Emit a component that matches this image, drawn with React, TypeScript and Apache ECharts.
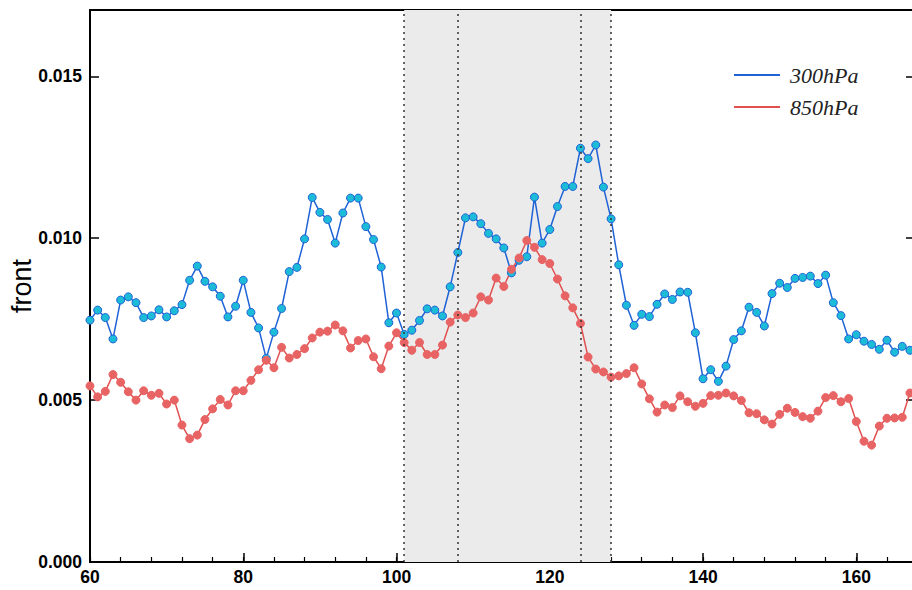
import React, { useEffect, useRef } from "react";
import * as echarts from "echarts";

// x positions start at 60 and advance by 1 per point
const X_START = 60;

const series300: number[] = [
  0.00747, 0.00778, 0.00755, 0.00689, 0.00809, 0.00819, 0.00801, 0.00755, 0.0076, 0.00779,
  0.00757, 0.00776, 0.00795, 0.0087, 0.00914, 0.00867, 0.0085, 0.00821, 0.00757, 0.0079,
  0.0087, 0.00771, 0.00723, 0.00629, 0.0071, 0.00783, 0.00897, 0.0091, 0.00998, 0.01126,
  0.0108, 0.01058, 0.00985, 0.01078, 0.01124, 0.01124, 0.01036, 0.00996, 0.00911, 0.00739,
  0.00769, 0.00703, 0.00716, 0.00746, 0.00782, 0.00778, 0.0076, 0.0085, 0.00956, 0.01063,
  0.01066, 0.01045, 0.01015, 0.00998, 0.0097, 0.00893, 0.00932, 0.00943, 0.01127, 0.00985,
  0.01027, 0.01098, 0.0116, 0.0116, 0.01278, 0.01246, 0.01288, 0.01158, 0.0106, 0.00918,
  0.00793, 0.00731, 0.00765, 0.00758, 0.00796, 0.00828, 0.00811, 0.00834, 0.00833, 0.00708,
  0.00566, 0.00594, 0.00558, 0.00605, 0.00687, 0.00714, 0.00787, 0.00771, 0.00729, 0.00829,
  0.00861, 0.00848, 0.00876, 0.00879, 0.00883, 0.0086, 0.00886, 0.00801, 0.00761, 0.00689,
  0.00702, 0.00682, 0.00672, 0.00657, 0.00685, 0.00648, 0.00666, 0.00654,
];

const series850: number[] = [
  0.00544, 0.0051, 0.00527, 0.00579, 0.00555, 0.00526, 0.005, 0.00529, 0.00515, 0.00521,
  0.00488, 0.005, 0.00423, 0.00381, 0.00392, 0.0044, 0.00473, 0.00502, 0.00485, 0.00529,
  0.00529, 0.00561, 0.00594, 0.00623, 0.006, 0.00663, 0.0063, 0.00641, 0.00659, 0.00692,
  0.0071, 0.00713, 0.00732, 0.00714, 0.00661, 0.00684, 0.00689, 0.00634, 0.00597, 0.00667,
  0.00708, 0.00678, 0.00654, 0.00678, 0.00641, 0.00641, 0.0067, 0.00741, 0.00763, 0.00755,
  0.00769, 0.00819, 0.00809, 0.00877, 0.00851, 0.00904, 0.00939, 0.00993, 0.00972, 0.00934,
  0.00922, 0.00874, 0.00822, 0.00785, 0.00737, 0.00633, 0.00596, 0.00587, 0.00571, 0.00575,
  0.00582, 0.006, 0.0055, 0.00504, 0.00463, 0.00485, 0.00477, 0.00513, 0.00495, 0.00481,
  0.0049, 0.00514, 0.00515, 0.00522, 0.00513, 0.00499, 0.00461, 0.00458, 0.00439, 0.00426,
  0.00456, 0.00475, 0.00462, 0.00449, 0.00444, 0.00466, 0.00508, 0.00514, 0.00495, 0.00505,
  0.00434, 0.00373, 0.00361, 0.0042, 0.00444, 0.00445, 0.00447, 0.00522,
];

const seriesNames = ["300hPa", "850hPa"];
const shadeRange = [101, 128];
const dottedLines = [101, 108, 124, 128];
const xTickLabels = [60, 80, 100, 120, 140, 160];
const yTickLabels = [0, 0.005, 0.01, 0.015];

const X_MIN = 60;
const X_MAX = 167.4;
const Y_MIN = 0;
const Y_MAX = 0.01705;

const BLUE = "#1f62d6";
const CYAN = "#1cbcd8";
const RED = "#e24f4f";
const RED_MARK = "#e86464";

export default function App() {
  const ref = useRef<HTMLDivElement>(null);

  useEffect(() => {
    if (!ref.current) return;
    const chart = echarts.init(ref.current, null, { renderer: "svg" });
    const pairs = (arr: number[]) => arr.map((v, i) => [X_START + i, v]);
    const sans = "'Liberation Sans', Arial, Helvetica, sans-serif";
    const serif = "'Liberation Serif', 'Times New Roman', serif";

    chart.setOption({
      animation: false,
      backgroundColor: "#ffffff",
      grid: {
        left: 90,
        right: -1,
        top: 10,
        bottom: 28,
        containLabel: false,
        outerBoundsMode: "none",
        show: true,
        borderColor: "#000",
        borderWidth: 2,
        backgroundColor: "transparent",
      },
      legend: {
        orient: "vertical",
        left: 734,
        top: 64,
        padding: 0,
        itemWidth: 46,
        itemHeight: 2,
        itemGap: 10,
        icon: "rect",
        data: [
          { name: seriesNames[0], itemStyle: { color: BLUE, borderWidth: 0 } },
          { name: seriesNames[1], itemStyle: { color: RED, borderWidth: 0 } },
        ],
        textStyle: {
          fontFamily: serif,
          fontStyle: "italic",
          fontSize: 22,
          color: "#222",
          padding: [0, 0, 0, 5],
        },
      },
      xAxis: [
        {
          type: "value",
          min: X_MIN,
          max: X_MAX,
          interval: 20,
          position: "bottom",
          axisLine: { show: true, onZero: false, lineStyle: { color: "#000", width: 2 } },
          axisTick: { show: true, inside: true, length: 9, lineStyle: { color: "#000", width: 1.5 } },
          axisLabel: {
            show: true,
            showMaxLabel: false,
            margin: 6,
            color: "#000",
            fontSize: 17.5,
            fontWeight: "bold",
            fontFamily: sans,
            formatter: (v: number) => (xTickLabels.includes(v) ? String(v) : ""),
          },
          splitLine: { show: false },
        },
        {
          type: "value",
          min: X_MIN,
          max: X_MAX,
          interval: 4,
          position: "bottom",
          axisLine: { show: false, onZero: false },
          axisTick: { show: true, inside: true, length: 5, lineStyle: { color: "#000", width: 1.2 } },
          axisLabel: { show: false },
          splitLine: { show: false },
        },
      ],
      yAxis: [
        {
          type: "value",
          min: Y_MIN,
          max: Y_MAX,
          interval: 0.005,
          position: "left",
          name: "front",
          nameLocation: "middle",
          nameGap: 55,
          nameMoveOverlap: false,
          nameTextStyle: { fontSize: 27, fontFamily: sans, color: "#000" },
          axisLine: { show: true, onZero: false, lineStyle: { color: "#000", width: 2 } },
          axisTick: { show: true, inside: true, length: 9, lineStyle: { color: "#000", width: 1.5 } },
          axisLabel: {
            show: true,
            showMaxLabel: false,
            margin: 8,
            color: "#000",
            fontSize: 17.5,
            fontWeight: "bold",
            fontFamily: sans,
            formatter: (v: number) =>
              yTickLabels.some((t) => Math.abs(t - v) < 1e-9) ? v.toFixed(3) : "",
          },
          splitLine: { show: false },
        },
        {
          type: "value",
          min: Y_MIN,
          max: Y_MAX,
          interval: 0.005,
          position: "right",
          axisLine: { show: false, onZero: false },
          axisTick: { show: true, inside: true, length: 7, lineStyle: { color: "#000", width: 1.5 } },
          axisLabel: { show: false },
          splitLine: { show: false },
        },
      ],
      series: [
        {
          name: "__shade",
          type: "line",
          data: [],
          z: 1,
          silent: true,
          markArea: {
            silent: true,
            label: { show: false },
            itemStyle: { color: "#ebebeb" },
            data: [[{ xAxis: shadeRange[0] }, { xAxis: shadeRange[1] }]],
          },
          markLine: {
            silent: true,
            symbol: "none",
            label: { show: false },
            lineStyle: { color: "#333", type: [2, 4], width: 1.5 },
            data: dottedLines.map((x) => ({ xAxis: x })),
          },
        },
        {
          name: seriesNames[0],
          type: "line",
          z: 3,
          data: pairs(series300),
          symbol: "circle",
          symbolSize: 8,
          lineStyle: { color: BLUE, width: 1.5 },
          itemStyle: { color: CYAN, borderColor: BLUE, borderWidth: 1 },
        },
        {
          name: seriesNames[1],
          type: "line",
          z: 3,
          data: pairs(series850),
          symbol: "circle",
          symbolSize: 8,
          lineStyle: { color: RED, width: 1.5 },
          itemStyle: { color: RED_MARK, borderColor: RED_MARK, borderWidth: 1 },
        },
      ],
    });

    return () => chart.dispose();
  }, []);

  return (
    <div
      ref={ref}
      style={{ position: "fixed", left: 0, top: 0, width: 912, height: 590 }}
    />
  );
}
